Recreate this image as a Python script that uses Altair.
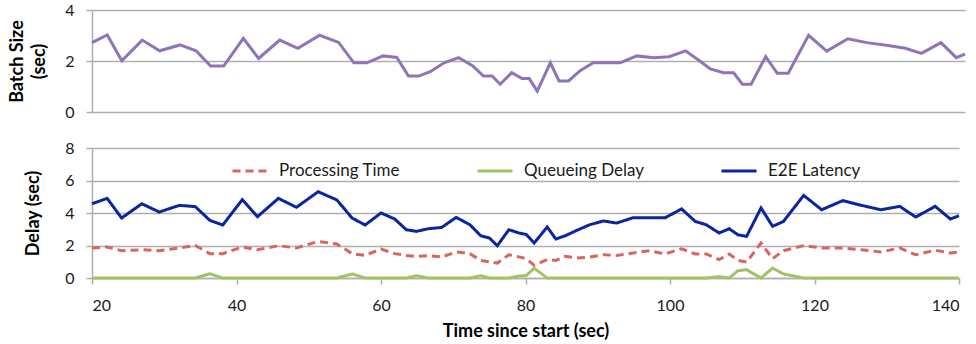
import altair as alt
import pandas as pd

# Sample times (seconds since start), shared by both panels
time_s = [20, 22.1, 24.1, 26.9, 29.3, 32.1, 34.3, 36.3, 38.1, 40.8,
          42.9, 45.8, 48.3, 51.3, 53.9, 56.0, 57.8, 60.0, 61.9, 63.5,
          64.9, 66.5, 68.4, 70.4, 72.3, 73.8, 75.0, 76.1, 77.7, 79.1,
          80.1, 81.2, 83.0, 84.2, 85.5, 87.1, 88.9, 90.8, 92.6, 94.9,
          97.2, 99.3, 101.6, 103.5, 105.0, 106.8, 108.2, 109.4, 110.6, 112.6,
          114.2, 115.7, 118.5, 121.0, 123.9, 126.5, 129.2, 131.8, 134.0, 136.7,
          138.8, 140.0]

batch_size = [2.72, 3.02, 2.01, 2.82, 2.40, 2.63, 2.40, 1.80, 1.80, 2.89,
              2.10, 2.82, 2.50, 3.01, 2.73, 1.93, 1.93, 2.20, 2.14, 1.41,
              1.41, 1.58, 1.93, 2.13, 1.82, 1.41, 1.41, 1.09, 1.54, 1.31,
              1.31, 0.82, 1.93, 1.22, 1.22, 1.62, 1.93, 1.93, 1.93, 2.20,
              2.13, 2.17, 2.40, 2.01, 1.69, 1.54, 1.54, 1.09, 1.09, 2.17,
              1.52, 1.52, 3.01, 2.39, 2.87, 2.72, 2.62, 2.50, 2.30, 2.72,
              2.13, 2.27]

processing_time = [1.85, 1.91, 1.68, 1.74, 1.68, 1.85, 2.00, 1.50, 1.50, 1.91,
                   1.74, 1.99, 1.85, 2.25, 2.09, 1.50, 1.39, 1.78, 1.50, 1.39,
                   1.33, 1.37, 1.29, 1.60, 1.50, 1.08, 1.00, 0.92, 1.43, 1.30,
                   1.19, 0.78, 1.13, 1.08, 1.33, 1.23, 1.29, 1.43, 1.39, 1.54,
                   1.68, 1.48, 1.80, 1.48, 1.48, 1.13, 1.48, 1.08, 0.98, 2.15,
                   1.19, 1.68, 1.99, 1.85, 1.85, 1.74, 1.60, 1.85, 1.43, 1.71,
                   1.54, 1.60]

queueing_delay = [0, 0, 0, 0, 0, 0, 0, 0.26, 0, 0,
                  0, 0, 0, 0, 0, 0.25, 0, 0, 0, 0,
                  0.14, 0, 0, 0, 0, 0.14, 0, 0, 0, 0.12,
                  0.15, 0.60, 0, 0, 0, 0, 0, 0, 0, 0,
                  0, 0, 0, 0, 0, 0.08, 0, 0.45, 0.51, 0,
                  0.61, 0.25, 0, 0, 0, 0, 0, 0, 0, 0,
                  0, 0]

e2e_latency = [4.57, 4.90, 3.69, 4.57, 4.06, 4.47, 4.39, 3.55, 3.26, 4.82,
               3.77, 4.90, 4.35, 5.31, 4.80, 3.69, 3.26, 4.00, 3.63, 2.97,
               2.87, 3.03, 3.11, 3.73, 3.28, 2.60, 2.46, 1.99, 2.97, 2.77,
               2.68, 2.15, 3.14, 2.40, 2.60, 2.93, 3.28, 3.51, 3.38, 3.71,
               3.71, 3.70, 4.25, 3.48, 3.28, 2.77, 3.03, 2.66, 2.56, 4.31,
               3.18, 3.48, 5.08, 4.20, 4.76, 4.47, 4.20, 4.41, 3.75, 4.41,
               3.63, 3.83]

series_names = ["Processing Time", "Queueing Delay", "E2E Latency"]
series_colors = ["#D7665F", "#A3C266", "#0A25A0"]
series_dash = [[8, 5], [1, 0], [1, 0]]
x_ticks = [20, 40, 60, 80, 100, 120, 140]

FONT = "Lato"
GRID = "#AFAFAF"

batch_df = pd.DataFrame({"t": time_s, "v": batch_size})
delay_df = pd.DataFrame({
    "t": time_s * 3,
    "v": processing_time + queueing_delay + e2e_latency,
    "series": [s for s in series_names for _ in time_s],
})

x_scale = alt.Scale(domain=[20, 140], nice=False, zero=False)

top = alt.Chart(batch_df).mark_line(color="#8F74B9", strokeWidth=3).encode(
    x=alt.X("t:Q", scale=x_scale, axis=None),
    y=alt.Y("v:Q", scale=alt.Scale(domain=[0, 4], nice=False),
            axis=alt.Axis(values=[0, 2, 4], title=["Batch Size", "(sec)"],
                          labelPadding=12, titlePadding=16, titleLineHeight=22)),
).properties(width=873, height=102)

legend = alt.Legend(
    title=None, orient="none", legendX=139, legendY=142,
    direction="horizontal", symbolType="stroke", symbolSize=1225,
    symbolStrokeWidth=3, labelFontSize=17, labelFont=FONT,
    labelColor="#1a1a1a", labelOffset=10, columnPadding=71,
    gridAlign="none",
)

bottom = alt.Chart(delay_df).mark_line(strokeWidth=3).encode(
    x=alt.X("t:Q", scale=x_scale,
            axis=alt.Axis(values=x_ticks, title="Time since start (sec)",
                          labelPadding=13, titlePadding=9)),
    y=alt.Y("v:Q", scale=alt.Scale(domain=[0, 8], nice=False),
            axis=alt.Axis(values=[0, 2, 4, 6, 8], title="Delay (sec)",
                          labelPadding=12, titlePadding=22)),
    color=alt.Color("series:N",
                    scale=alt.Scale(domain=series_names, range=series_colors),
                    legend=legend),
    strokeDash=alt.StrokeDash("series:N",
                              scale=alt.Scale(domain=series_names, range=series_dash),
                              legend=legend),
).properties(width=867, height=130)

chart = alt.vconcat(top, bottom, spacing=20).configure(
    font=FONT,
    padding={"left": 8, "top": 2, "right": 4, "bottom": 4},
).configure_view(
    strokeWidth=0,
).configure_axis(
    labelFont=FONT, labelFontSize=16, labelColor="#1a1a1a",
    titleFont=FONT, titleFontSize=18, titleFontWeight="bold", titleColor="#000000",
    gridColor=GRID, gridWidth=1.5, grid=True,
    domainColor=GRID, domainWidth=1.5, tickColor=GRID, tickWidth=1.5, tickSize=6,
    labelPadding=10,
).configure_axisX(
    grid=False,
)

chart.save("out.html", embed_options={"renderer": "svg", "actions": False})
